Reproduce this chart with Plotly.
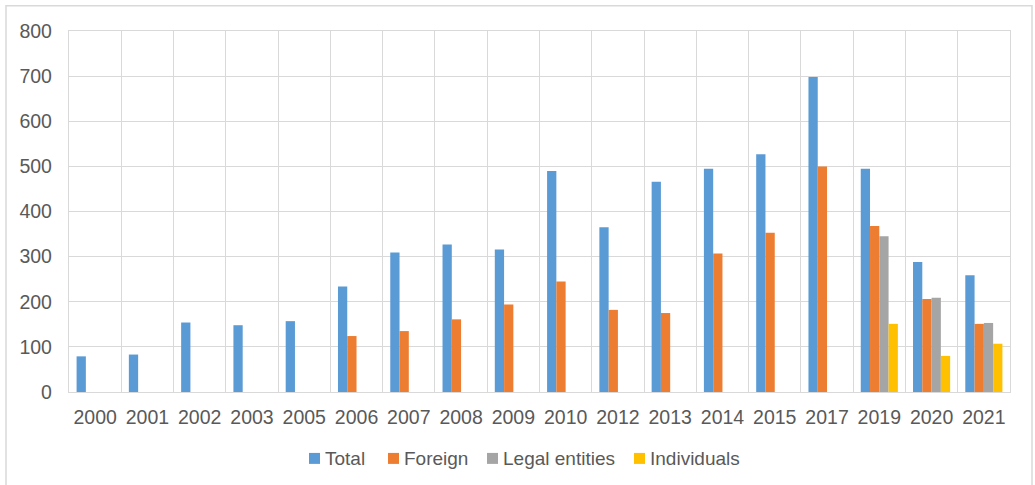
import plotly.graph_objects as go

years = ["2000", "2001", "2002", "2003", "2005", "2006", "2007", "2008", "2009",
         "2010", "2012", "2013", "2014", "2015", "2017", "2019", "2020", "2021"]

total = [79, 83, 154, 148, 157, 234, 309, 327, 316,
         490, 365, 466, 495, 527, 698, 495, 288, 259]
foreign = [None, None, None, None, None, 124, 135, 161, 194,
           245, 182, 175, 307, 353, 500, 368, 206, 151]
legal_entities = [None] * 15 + [345, 209, 153]
individuals = [None] * 15 + [151, 80, 107]

series = [
    ("Total", total, "#5B9BD5"),
    ("Foreign", foreign, "#ED7D31"),
    ("Legal entities", legal_entities, "#A5A5A5"),
    ("Individuals", individuals, "#FFC000"),
]

text_color = "#595959"
grid_color = "#D9D9D9"
font_family = "Liberation Sans, Arial, sans-serif"

W, H = 1035, 485
ML, MR, MT, MB = 69, 25, 31, 92.5
PW, PH = W - ML - MR, H - MT - MB


def px_x(x):
    return (x - ML) / PW


def px_y(y):
    return (H - MB - y) / PH


fig = go.Figure()
for name, values, color in series:
    fig.add_trace(go.Bar(x=years, y=values, name=name, showlegend=False,
                         marker=dict(color=color, line=dict(width=0))))

# light frame around the whole chart area
fig.add_shape(type="rect", xref="paper", yref="paper",
              x0=px_x(6), x1=px_x(1032), y0=px_y(500), y1=px_y(5.7),
              line=dict(color=grid_color, width=1.5), fillcolor="rgba(0,0,0,0)",
              layer="below")

# compact legend row: coloured square followed by the series name
legend_left = [309, 388, 487, 634]
legend_y = 459
box = 11
for (name, _, color), lx in zip(series, legend_left):
    fig.add_shape(type="rect", xref="paper", yref="paper",
                  x0=px_x(lx), x1=px_x(lx + box),
                  y0=px_y(legend_y + box / 2), y1=px_y(legend_y - box / 2),
                  line=dict(width=0), fillcolor=color)
    fig.add_annotation(xref="paper", yref="paper", x=px_x(lx + box + 2.5), y=px_y(legend_y),
                       xanchor="left", yanchor="middle", showarrow=False, text=name,
                       font=dict(size=19, color=text_color, family=font_family))

fig.update_layout(
    width=W, height=H,
    margin=dict(l=ML, r=MR, t=MT, b=MB),
    paper_bgcolor="white", plot_bgcolor="white",
    barmode="group", bargap=0.29, bargroupgap=0,
    font=dict(family=font_family, color=text_color),
    showlegend=False,
)

fig.update_xaxes(
    type="category", tickson="boundaries", ticks="", showgrid=True,
    gridcolor=grid_color, gridwidth=1.3,
    showline=True, mirror=True, linecolor=grid_color, linewidth=1.3,
    ticklabelstandoff=7,
    tickfont=dict(size=19.5, color=text_color),
)
fig.update_yaxes(
    range=[0, 800], dtick=100, showgrid=True, gridcolor=grid_color, gridwidth=1.3,
    zeroline=False, showline=True, mirror=True, linecolor=grid_color, linewidth=1.3,
    ticks="", ticklabelstandoff=12,
    tickfont=dict(size=19.5, color=text_color),
)

fig.write_html("out.html")
